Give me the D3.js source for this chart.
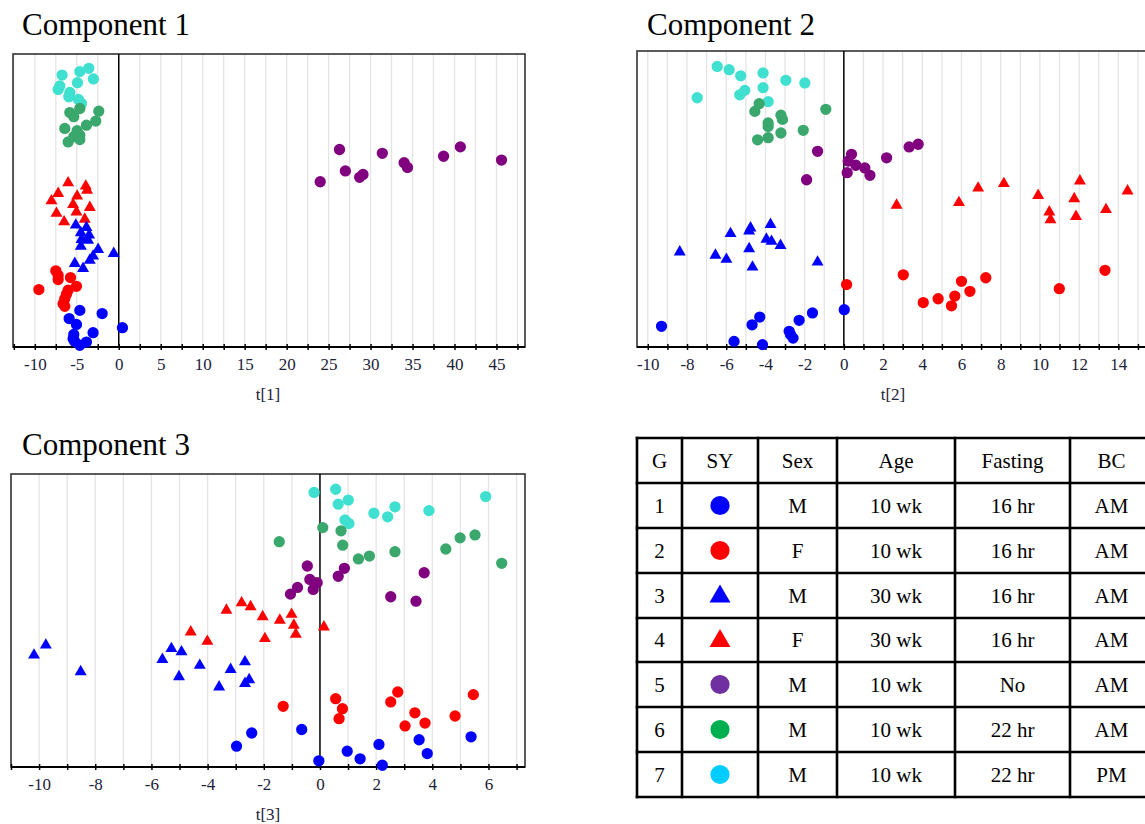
<!DOCTYPE html>
<html>
<head>
<meta charset="utf-8">
<script src="https://cdn.jsdelivr.net/npm/d3@7"></script>
<style>
    body { margin: 0; background: #fff; }
    svg { display: block; font-family: "Liberation Serif", "Times New Roman", serif; }
    svg text { font-family: "Liberation Serif", "Times New Roman", serif; }
</style>
</head>
<body>
<div id="chart"></div>
<script>

// groups: 1..7 (shape + colour set per group)
const groupIds = [1, 2, 3, 4, 5, 6, 7];
const groupShape = ['circle', 'circle', 'triangle', 'triangle', 'circle', 'circle', 'circle'];
const plotColors = ['#0000ff', '#ff0000', '#0000ff', '#ff0000', '#800080', '#3aa76d', '#40e0d0'];
const tableColors = ['#0000ff', '#ff0000', '#0000ff', '#ff0000', '#7030a0', '#00b050', '#00ccff'];
const groupSex = ['M', 'F', 'M', 'F', 'M', 'M', 'M'];
const groupAge = ['10 wk', '10 wk', '30 wk', '30 wk', '10 wk', '10 wk', '10 wk'];
const groupFasting = ['16 hr', '16 hr', '16 hr', '16 hr', 'No', '22 hr', '22 hr'];
const groupBC = ['AM', 'AM', 'AM', 'AM', 'AM', 'AM', 'PM'];
const tableHeader = ['G', 'SY', 'Sex', 'Age', 'Fasting', 'BC'];

// scores: [group, t, vertical position (0-100, unlabelled)]
const comp1Points = [
    [7,-6.75,92.8],[7,-4.64,94.0],[7,-3.57,95.1],[7,-3.02,91.5],[7,-4.92,90.2],[7,-7.02,89.1],
    [7,-7.22,87.9],[7,-5.83,86.9],[7,-5.95,85.4],[7,-4.80,84.5],[7,-4.44,83.1],
    [6,-4.64,81.4],[6,-2.38,80.5],[6,-5.83,80.0],[6,-5.36,78.6],[6,-3.85,75.7],[6,-2.74,77.1],
    [6,-6.43,74.6],[6,-4.96,73.8],[6,-4.64,72.3],[6,-5.36,71.8],[6,-6.03,70.0],[6,-4.64,70.8],
    [5,24.0,56.4],[5,26.3,67.4],[5,27.0,60.1],[5,28.7,57.9],[5,29.1,58.9],[5,31.4,66.1],
    [5,34.0,62.9],[5,34.4,61.3],[5,38.7,65.1],[5,40.7,68.3],[5,45.6,63.8],
    [4,-6.03,56.0],[4,-3.93,54.9],[4,-3.77,53.5],[4,-7.22,52.4],[4,-4.96,51.5],[4,-8.02,49.9],
    [4,-5.44,48.6],[4,-3.45,47.6],[4,-5.04,46.1],[4,-7.42,45.6],[4,-4.05,43.6],[4,-6.51,42.7],
    [3,-5.12,41.6],[3,-3.85,40.8],[3,-4.52,39.0],[3,-3.53,38.2],[3,-4.44,36.7],[3,-3.65,36.4],
    [3,-4.52,34.4],[3,-2.46,33.3],[3,-0.60,31.9],[3,-3.06,31.0],[3,-3.45,29.6],[3,-5.24,28.5],[3,-4.25,26.8],
    [2,-7.50,26.0],[2,-7.22,24.5],[2,-5.75,23.7],[2,-7.22,23.0],[2,-5.04,20.7],[2,-9.52,19.6],
    [2,-6.03,19.4],[2,-6.23,18.0],[2,-6.43,16.5],[2,-6.63,14.8],[2,-6.43,13.9],
    [1,-4.64,12.5],[1,-1.98,11.4],[1,-5.91,9.7],[1,-5.04,7.7],[1,0.44,6.6],[1,-3.06,4.9],
    [1,-5.36,4.3],[1,-5.44,2.8],[1,-3.85,1.7],[1,-4.64,0.6],[1,-5.24,1.9]
];

const comp2Points = [
    [7,-6.46,94.8],[7,-5.85,93.7],[7,-5.26,91.6],[7,-4.12,92.6],[7,-2.96,90.1],[7,-1.99,89.2],
    [7,-4.12,87.6],[7,-7.48,84.2],[7,-5.05,86.7],[7,-5.31,85.2],[7,-3.86,82.9],
    [6,-4.32,82.2],[6,-4.54,79.6],[6,-0.92,80.3],[6,-3.21,78.3],[6,-3.13,76.9],[6,-3.86,75.7],
    [6,-3.86,74.5],[6,-2.07,73.2],[6,-3.21,72.3],[6,-3.86,70.7],[6,-4.40,70.0],
    [5,-1.34,66.1],[5,0.39,65.1],[5,0.22,62.8],[5,0.61,61.4],[5,1.07,60.5],[5,1.33,58.0],
    [5,0.17,58.9],[5,-1.90,56.5],[5,2.18,63.9],[5,3.33,67.6],[5,3.79,68.5],
    [4,2.69,47.9],[4,5.87,48.8],[4,6.85,53.7],[4,8.16,55.2],[4,9.91,51.2],[4,10.48,45.6],
    [4,10.54,43.0],[4,12.04,56.1],[4,11.75,50.1],[4,11.84,44.1],[4,13.37,46.4],[4,14.47,52.7],
    [3,-3.74,41.4],[3,-4.76,40.2],[3,-5.78,38.3],[3,-4.83,39.2],[3,-3.95,36.4],[3,-3.69,35.7],
    [3,-3.23,34.3],[3,-8.37,32.1],[3,-4.83,33.2],[3,-6.55,31.0],[3,-5.99,29.6],[3,-4.66,27.0],[3,-1.34,28.7],
    [2,0.14,21.1],[2,3.03,24.4],[2,4.05,15.0],[2,4.81,16.3],[2,5.66,17.2],[2,5.49,13.9],
    [2,6.00,22.2],[2,6.43,18.8],[2,7.24,23.4],[2,10.99,19.7],[2,13.32,25.9],
    [1,-9.30,7.0],[1,-5.60,1.9],[1,-4.68,7.5],[1,-4.29,10.1],[1,-4.15,0.8],[1,-2.79,5.3],
    [1,-2.72,4.2],[1,-2.59,3.0],[1,-2.28,9.0],[1,-1.60,11.5],[1,0.02,12.6]
];

const comp3Points = [
    [7,-0.21,93.7],[7,0.56,94.8],[7,0.65,89.7],[7,1.01,91.1],[7,0.89,84.3],[7,1.03,83.1],
    [7,1.92,86.6],[7,2.41,85.4],[7,2.67,88.8],[7,3.88,87.5],[7,5.90,92.3],
    [6,0.10,81.7],[6,-1.45,76.9],[6,0.75,80.6],[6,0.81,75.7],[6,1.37,71.0],[6,1.76,72.0],
    [6,2.67,73.5],[6,4.48,74.4],[6,4.99,78.2],[6,5.52,79.2],[6,6.47,69.5],
    [5,-0.45,68.6],[5,-0.36,64.0],[5,-0.10,62.9],[5,-0.24,60.6],[5,-0.80,61.3],[5,-1.05,59.0],
    [5,0.65,65.1],[5,0.87,67.8],[5,3.71,66.3],[5,2.52,58.1],[5,3.42,56.6],
    [4,-2.79,56.0],[4,-2.47,54.7],[4,-3.33,53.5],[4,-2.04,51.3],[4,-1.43,50.1],[4,-1.01,52.1],
    [4,-0.93,48.4],[4,-0.86,45.3],[4,-1.96,43.8],[4,-4.60,46.1],[4,-4.01,42.9],[4,0.14,47.8],
    [3,-9.76,41.6],[3,-10.18,38.2],[3,-8.52,32.5],[3,-5.29,40.4],[3,-4.93,39.3],[3,-5.61,36.7],
    [3,-5.02,30.8],[3,-4.28,34.7],[3,-3.18,33.3],[3,-2.67,35.9],[3,-3.59,27.3],[3,-2.52,29.8],[3,-2.67,28.5],
    [2,-1.31,20.7],[2,0.56,23.3],[2,0.80,19.9],[2,0.68,16.5],[2,2.52,22.2],[2,2.77,25.6],
    [2,3.38,18.5],[2,3.03,14.0],[2,3.74,15.0],[2,4.81,17.4],[2,5.46,24.7],
    [1,-0.65,12.8],[1,-2.43,11.6],[1,-2.97,7.1],[1,-0.04,2.1],[1,0.97,5.4],[1,1.43,2.8],
    [1,2.10,7.7],[1,2.22,0.6],[1,3.53,9.3],[1,3.82,4.6],[1,5.38,10.3]
];

const svgWidth = 1145;
const svgHeight = 824;
const serif = '"Liberation Serif", "Times New Roman", serif';

const svg = d3.select('#chart')
    .append('svg')
    .attr('width', svgWidth)
    .attr('height', svgHeight);

const panels = [
    {title: 'Component 1', axisTitle: 't[1]', points: comp1Points,
     domain: [-12.6, 48.4], box: {l: 13, t: 54, r: 525, b: 347},
     ticks: d3.range(-12.5, 48, 2.5), labelStep: 5, labelMax: 45,
     titlePos: [22, 35], axisTitleX: 268},
    {title: 'Component 2', axisTitle: 't[2]', points: comp2Points,
     domain: [-10.55, 16.38], box: {l: 637, t: 51, r: 1165, b: 347},
     ticks: d3.range(-10, 17, 1), labelStep: 2, labelMax: 14,
     titlePos: [647, 35], axisTitleX: 893},
    {title: 'Component 3', axisTitle: 't[3]', points: comp3Points,
     domain: [-11.0, 7.3], box: {l: 11, t: 474, r: 525, b: 767},
     ticks: d3.range(-11, 8, 1), labelStep: 2, labelMax: 6,
     titlePos: [22, 455], axisTitleX: 268}
];

const symbolPath = (shape, circleSize, triSize) => d3.symbol()
    .type(shape === 'triangle' ? d3.symbolTriangle : d3.symbolCircle)
    .size(shape === 'triangle' ? triSize : circleSize)();

function drawPanel(p) {
    const {l, t, r, b} = p.box;
    const x = d3.scaleLinear().domain(p.domain).range([l, r]);
    const y = d3.scaleLinear().domain([0, 100]).range([b, t]);
    const g = svg.append('g');

    //grid
    g.selectAll('line.grid')
        .data(p.ticks.filter(v => v !== 0))
        .join('line')
        .attr('class', 'grid')
        .attr('x1', d => x(d)).attr('x2', d => x(d))
        .attr('y1', t).attr('y2', b)
        .attr('stroke', '#e4e4e4')
        .attr('stroke-width', 1.3);

    //frame
    g.append('rect')
        .attr('x', l).attr('y', t)
        .attr('width', r - l).attr('height', b - t)
        .attr('fill', 'none')
        .attr('stroke', '#333')
        .attr('stroke-width', 1.6);

    //zero line
    g.append('line')
        .attr('x1', x(0)).attr('x2', x(0))
        .attr('y1', t).attr('y2', b)
        .attr('stroke', '#000')
        .attr('stroke-width', 1.5);

    //axis
    const axis = g.append('g')
        .attr('transform', `translate(0,${b})`)
        .call(d3.axisBottom(x)
            .tickValues(p.ticks)
            .tickSize(3)
            .tickPadding(8)
            .tickFormat(v => (v % p.labelStep === 0 && v <= p.labelMax) ? v : ''));
    axis.attr('font-family', serif).attr('font-size', 17);
    axis.select('.domain')
        .attr('d', `M${l},0H${r}`)
        .attr('stroke', '#000')
        .attr('stroke-width', 2);
    axis.selectAll('.tick line')
        .attr('y1', -3).attr('y2', 3)
        .attr('stroke', '#000')
        .attr('stroke-width', 1.5);
    axis.selectAll('.tick text')
        .style('font-family', serif)
        .style('font-size', '17px')
        .attr('fill', '#1c2238');

    //points
    g.selectAll('path.pt')
        .data(p.points)
        .join('path')
        .attr('class', 'pt')
        .attr('transform', d => `translate(${x(d[1])},${y(d[2])})`)
        .attr('d', d => symbolPath(groupShape[d[0] - 1], 100, 62))
        .attr('fill', d => plotColors[d[0] - 1]);

    //titles
    svg.append('text')
        .attr('x', p.titlePos[0])
        .attr('y', p.titlePos[1])
        .style('font-family', serif)
        .style('font-size', '31px')
        .style('fill', '#000')
        .text(p.title);

    svg.append('text')
        .attr('x', p.axisTitleX)
        .attr('y', b + 53)
        .attr('text-anchor', 'middle')
        .style('font-family', serif)
        .style('font-size', '17px')
        .style('fill', '#1c2238')
        .text(p.axisTitle);
}

panels.forEach(drawPanel);

// legend table
const colX = [637, 682, 758, 837, 955, 1070, 1153];
const rowY = [438, 483, 528, 573, 618, 662, 707, 752, 797];
const table = svg.append('g');

const rows = groupIds.map((gid, i) => [String(gid), null, groupSex[i], groupAge[i], groupFasting[i], groupBC[i]]);

table.selectAll('line.h')
    .data(rowY)
    .join('line')
    .attr('x1', colX[0]).attr('x2', colX[colX.length - 1])
    .attr('y1', d => d).attr('y2', d => d)
    .attr('stroke', '#000').attr('stroke-width', 2.6).attr('stroke-linecap', 'square');

table.selectAll('line.v')
    .data(colX)
    .join('line')
    .attr('x1', d => d).attr('x2', d => d)
    .attr('y1', rowY[0]).attr('y2', rowY[rowY.length - 1])
    .attr('stroke', '#000').attr('stroke-width', 2.6).attr('stroke-linecap', 'square');

const cx = j => (colX[j] + colX[j + 1]) / 2;
const cy = i => (rowY[i] + rowY[i + 1]) / 2;

tableHeader.forEach((h, j) => {
    table.append('text')
        .attr('x', cx(j)).attr('y', cy(0) + 7)
        .attr('text-anchor', 'middle')
        .style('font-family', serif)
        .style('font-size', '21px')
        .text(h);
});

rows.forEach((row, i) => {
    row.forEach((val, j) => {
        if (j === 1) {
            table.append('path')
                .attr('transform', `translate(${cx(j)},${cy(i + 1) + (groupShape[i] === 'triangle' ? 1 : 0)})`)
                .attr('d', symbolPath(groupShape[i], 290, 190))
                .attr('fill', tableColors[i]);
        } else {
            table.append('text')
                .attr('x', cx(j)).attr('y', cy(i + 1) + 7)
                .attr('text-anchor', 'middle')
                .style('font-family', serif)
                .style('font-size', '21px')
                .text(val);
        }
    });
});
</script>
</body>
</html>
